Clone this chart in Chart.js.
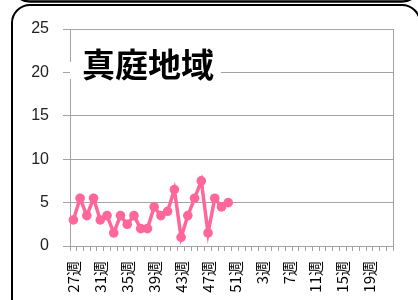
<!DOCTYPE html>
<html>
<head>
<meta charset="utf-8">
<script src="https://cdn.jsdelivr.net/npm/chart.js@4"></script>
<style>
  html, body { margin: 0; padding: 0; background: #fff; overflow: hidden; }
  canvas { display: block; }
</style>
</head>
<body>
<canvas id="chart" width="418" height="300"></canvas>
<script>
// Weeks (27週 .. 52週, then 1週 .. 22週)
const weeks = [27, 28, 29, 30, 31, 32, 33, 34, 35, 36, 37, 38, 39, 40, 41, 42, 43, 44, 45, 46, 47, 48, 49, 50, 51, 52,
               1, 2, 3, 4, 5, 6, 7, 8, 9, 10, 11, 12, 13, 14, 15, 16, 17, 18, 19, 20, 21, 22];
const weekLabels = weeks.map(w => w + '週');

// 定点当たり報告数
const reports = [3, 5.5, 3.5, 5.5, 3, 3.5, 1.5, 3.5, 2.5, 3.5, 2, 2,
                 4.5, 3.5, 4, 6.5, 1, 3.5, 5.5, 7.5, 1.5, 5.5, 4.5, 5];

const yMin = 0;
const yMax = 25;
const yStep = 5;

const titleText = '真庭地域';
const gridColor = '#a3a3a3';
const lineColor = '#ff6699';

// Frame + plot border
const framePlugin = {
    id: 'frame',
    beforeDraw(chart) {
        const ctx = chart.ctx;
        ctx.save();
        ctx.fillStyle = '#fff';
        ctx.fillRect(0, 0, chart.width, chart.height);
        ctx.strokeStyle = '#000';
        // bottom of the chart above
        ctx.lineWidth = 2.5;
        ctx.beginPath();
        ctx.roundRect(12, -300, 408, 301.5, 18);
        ctx.stroke();
        // this chart's frame
        ctx.lineWidth = 2;
        ctx.beginPath();
        ctx.roundRect(12, 5, 408, 340, 18);
        ctx.stroke();
        ctx.restore();
    },
    beforeDatasetsDraw(chart) {
        const a = chart.chartArea;
        const ctx = chart.ctx;
        ctx.save();
        ctx.strokeStyle = gridColor;
        ctx.lineWidth = 1;
        ctx.beginPath();
        ctx.moveTo(Math.round(a.right) + 0.5, a.top);
        ctx.lineTo(Math.round(a.right) + 0.5, a.bottom);
        ctx.stroke();
        ctx.restore();
    },
    afterDraw(chart) {
        const ctx = chart.ctx;
        ctx.save();
        ctx.fillStyle = '#fff';
        ctx.fillRect(70, 62, 151, 17);
        ctx.fillStyle = '#000';
        ctx.font = 'bold 33px "Noto Sans CJK JP"';
        ctx.textBaseline = 'middle';
        ctx.fillText(titleText, 82, 64);
        ctx.restore();
    }
};

new Chart(document.getElementById('chart'), {
    type: 'line',
    data: {
        labels: weekLabels,
        datasets: [{
            data: reports,
            borderColor: lineColor,
            backgroundColor: lineColor,
            borderWidth: 3.5,
            pointRadius: 4.8,
            pointBorderWidth: 0,
            pointBackgroundColor: lineColor,
            tension: 0
        }]
    },
    options: {
        responsive: false,
        animation: false,
        layout: { padding: { left: 0, right: 17, top: 29, bottom: 0 } },
        plugins: {
            legend: { display: false },
            tooltip: { enabled: false }
        },
        scales: {
            x: {
                type: 'category',
                offset: true,
                grid: {
                    offset: true,
                    drawOnChartArea: false,
                    tickLength: 5,
                    color: gridColor
                },
                border: { color: gridColor },
                ticks: {
                    autoSkip: false,
                    minRotation: 90,
                    maxRotation: 90,
                    padding: 10,
                    color: '#000',
                    font: { family: '"Noto Sans CJK JP"', size: 15 },
                    callback: function (value, index) {
                        return index % 4 === 0 ? this.getLabelForValue(value) : '';
                    }
                },
                afterFit(scale) { scale.height = 54; }
            },
            y: {
                min: yMin,
                max: yMax,
                grid: { color: gridColor, tickLength: 7 },
                border: { color: gridColor },
                ticks: {
                    stepSize: yStep,
                    padding: 14,
                    color: '#222',
                    font: { family: '"Liberation Sans"', size: 16 }
                },
                afterFit(scale) { scale.width = 70; }
            }
        }
    },
    plugins: [framePlugin]
});
</script>
</body>
</html>
